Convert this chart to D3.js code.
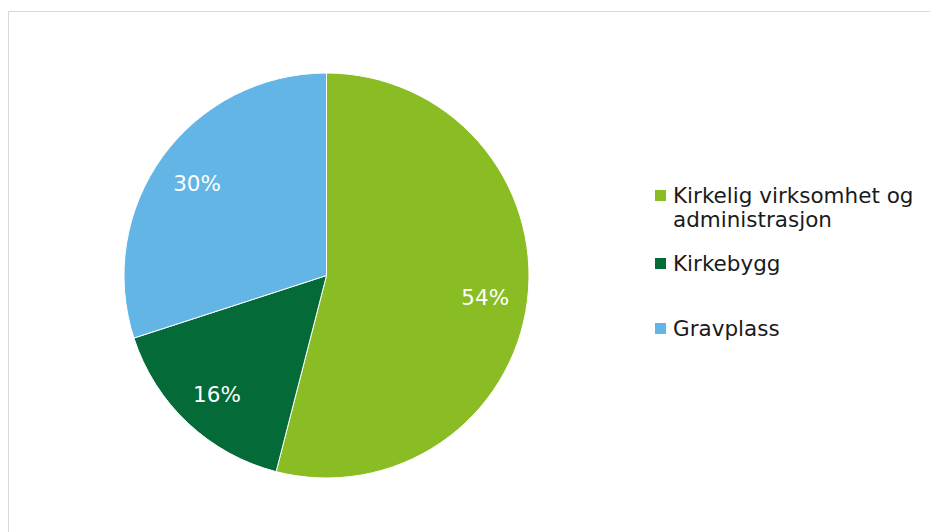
<!DOCTYPE html>
<html>
<head>
<meta charset="utf-8">
<script src="https://cdn.jsdelivr.net/npm/d3@7"></script>
<style>
  body { margin: 0; background: #fff; }
  #chart { width: 930px; height: 532px; }
  text { font-family: "DejaVu Sans", Verdana, sans-serif; }
</style>
</head>
<body>
<div id="chart"></div>
<script>
// data
const categories = ['Kirkelig virksomhet og administrasjon', 'Kirkebygg', 'Gravplass'];
const legendLines = [['Kirkelig virksomhet og', 'administrasjon'], ['Kirkebygg'], ['Gravplass']];
const shares = [54, 16, 30];
const colors = ['#8abd24', '#046a38', '#62b5e5'];

const width = 930, height = 532;

const svg = d3.select('#chart').append('svg')
  .attr('width', width)
  .attr('height', height);

// outer frame
svg.append('rect')
  .attr('x', 8.5)
  .attr('y', 11.5)
  .attr('width', 930)
  .attr('height', 540)
  .attr('fill', 'none')
  .attr('stroke', '#d9d9d9')
  .attr('stroke-width', 1);

const cx = 326.5, cy = 275.5, radius = 202.5;

const data = categories.map(function(c, i) { return { name: c, value: shares[i], color: colors[i] } });

const pie = d3.pie()
  .sort(null)
  .value(function(d) { return d.value });

const arc = d3.arc().innerRadius(0).outerRadius(radius);
const labelArc = d3.arc().innerRadius(radius * 0.79).outerRadius(radius * 0.79);

const g = svg.append('g').attr('transform', 'translate(' + cx + ',' + cy + ')');

const slices = g.selectAll('g.slice')
  .data(pie(data))
  .enter().append('g')
  .attr('class', 'slice');

slices.append('path')
  .attr('d', arc)
  .attr('fill', function(d) { return d.data.color })
  .attr('stroke', '#fff')
  .attr('stroke-width', 1);

slices.append('text')
  .attr('transform', function(d) { return 'translate(' + labelArc.centroid(d) + ')' })
  .attr('text-anchor', 'middle')
  .attr('dy', '0.45em')
  .attr('fill', '#fff')
  .attr('font-size', '21.5px')
  .text(function(d) { return d.data.value + '%' });

// legend
const legendX = 655;
const legendTops = [190, 258, 323];
const legend = svg.append('g');

legendLines.forEach(function(lines, i) {
  const item = legend.append('g').attr('transform', 'translate(' + legendX + ',' + legendTops[i] + ')');
  item.append('rect')
    .attr('width', 11)
    .attr('height', 11)
    .attr('fill', colors[i]);
  const t = item.append('text')
    .attr('x', 18)
    .attr('y', 12.5)
    .attr('font-size', '21.5px')
    .attr('fill', '#1a1a1a');
  lines.forEach(function(line, j) {
    t.append('tspan')
      .attr('x', 18)
      .attr('dy', j === 0 ? 0 : 24)
      .text(line);
  });
});
</script>
</body>
</html>
